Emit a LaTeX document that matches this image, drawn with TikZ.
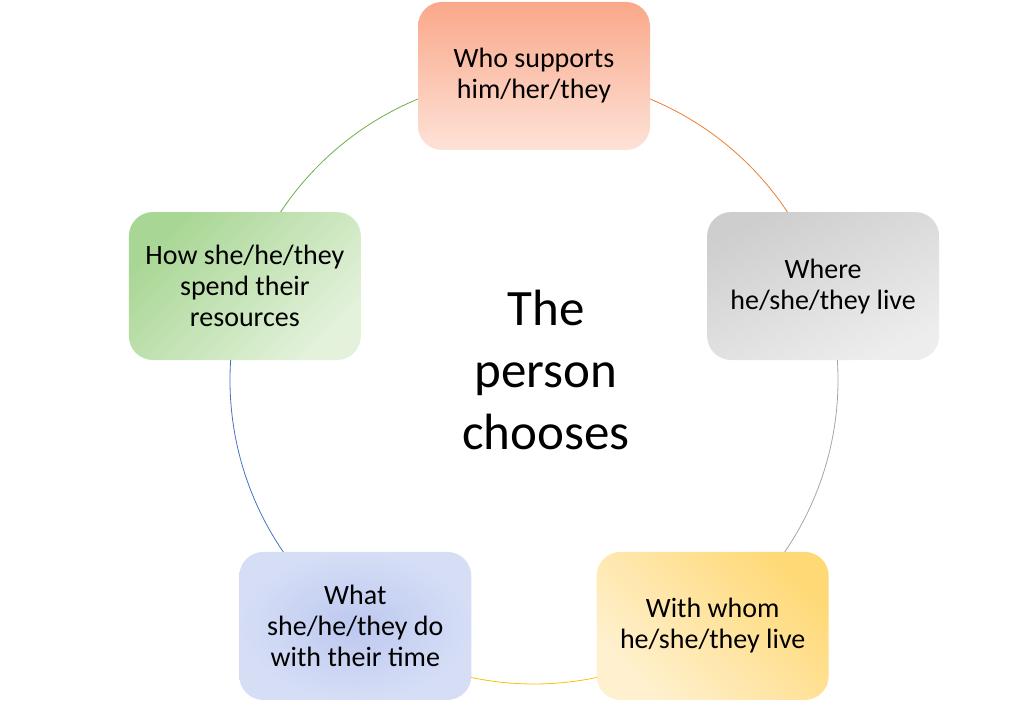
\documentclass[tikz,border=0pt]{standalone}
\usepackage{fontspec}
\setmainfont{Carlito}
\usetikzlibrary{calc,backgrounds}

\definecolor{ringorange}{RGB}{237,125,49}
\definecolor{ringgray}{RGB}{165,165,165}
\definecolor{ringyellow}{RGB}{255,192,0}
\definecolor{ringblue}{RGB}{68,114,196}
\definecolor{ringgreen}{RGB}{112,173,71}

\begin{document}
\begin{tikzpicture}[x=1pt,y=1pt,
  choice/.style={rounded corners=24pt,minimum width=232pt,minimum height=148pt,
    inner sep=0pt,align=center,font=\fontsize{28}{31}\selectfont},
  ring/.style={line width=0.8pt}]
  \useasboundingbox (0,0) rectangle (1024,712);
  \coordinate (c) at (534,332);
  \node[font=\fontsize{51}{62}\selectfont,align=center] (person) at (546,342) {The\\person\\chooses};
  % the five choices round the circle
  \node[choice,top color={rgb,255:red,250;green,168;blue,138},bottom color={rgb,255:red,253;green,226;blue,215}]
    (support) at ($(c)+(90:304)$) {Who supports\\him/her/they};
  \node[choice,top color={rgb,255:red,206;green,206;blue,206},bottom color={rgb,255:red,237;green,237;blue,237},shading angle=25]
    (where) at ($(c)+(18:304)$) {Where\\he/she/they live};
  \node[choice,top color={rgb,255:red,255;green,217;blue,118},bottom color={rgb,255:red,255;green,241;blue,208},shading angle=-45]
    (whom) at ($(c)+(-54:304)$) {With whom\\he/she/they live};
  \node[choice,inner color={rgb,255:red,188;green,200;blue,239},outer color={rgb,255:red,214;green,222;blue,246}]
    (time) at ($(c)+(-126:304)$) {What\\she/he/they do\\with their time};
  \node[choice,top color={rgb,255:red,168;green,214;blue,148},bottom color={rgb,255:red,228;green,242;blue,220},shading angle=45]
    (spend) at ($(c)+(162:304)$) {How she/he/they\\spend their\\resources};
  % circle segments behind the boxes
  \begin{scope}[on background layer]
    \draw[ring,ringorange] (support.center) arc[start angle=90,end angle=18,radius=304];
    \draw[ring,ringgray] (where.center) arc[start angle=18,end angle=-54,radius=304];
    \draw[ring,ringyellow] (whom.center) arc[start angle=-54,end angle=-126,radius=304];
    \draw[ring,ringblue] (time.center) arc[start angle=-126,end angle=-198,radius=304];
    \draw[ring,ringgreen] (spend.center) arc[start angle=162,end angle=90,radius=304];
  \end{scope}
\end{tikzpicture}
\end{document}
